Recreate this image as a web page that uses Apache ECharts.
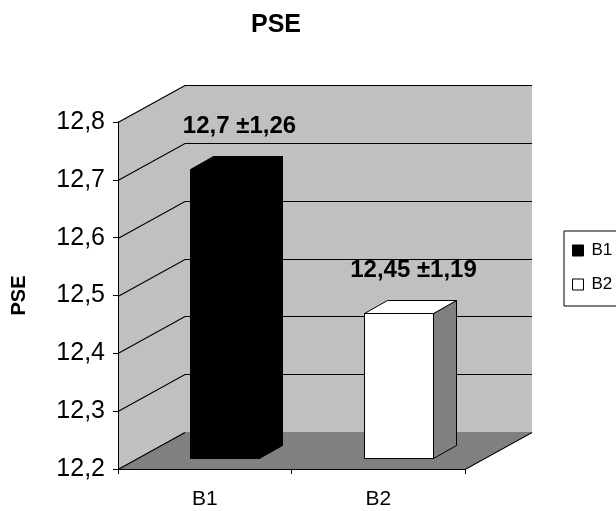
<!DOCTYPE html>
<html>
<head>
<meta charset="utf-8">
<script src="https://cdn.jsdelivr.net/npm/echarts@6/dist/echarts.min.js"></script>
<style>
  html, body { margin: 0; padding: 0; background: #fff; }
  #chart { width: 616px; height: 511px; }
</style>
</head>
<body>
<div id="chart"></div>
<script>
// Group names, mean PSE values and their standard deviations
const categories = ['B1', 'B2'];
const means = [12.7, 12.45];
const deviations = [1.26, 1.19];

// Value axis range and tick values
const yMin = 12.2;
const yMax = 12.8;
const yStep = 0.1;
const yTicks = [12.2, 12.3, 12.4, 12.5, 12.6, 12.7, 12.8];

// Perspective: offset of the back wall relative to the front plane
const DX = 67;
const DY = -37;
// Bars sit between these depth fractions
const F0 = 0.3;
const F1 = 0.65;

const FONT = '"Liberation Sans", Arial, sans-serif';

const barLooks = [
  { front: '#000000', side: '#000000', top: '#000000' },
  { front: '#ffffff', side: '#808080', top: '#ffffff' }
];

function comma(v) { return String(v).replace('.', ','); }

const r = (v) => Math.round(v) + 0.5;

// Walls, floor and gridlines of the 3D box
function renderScene(params, api) {
  const cs = params.coordSys;
  const x0 = cs.x, x1 = cs.x + cs.width;
  const yTop = api.coord([0, yMax])[1];
  const yBot = api.coord([0, yMin])[1];
  const children = [];
  children.push({
    type: 'polygon',
    shape: { points: [[x0, yTop], [x0 + DX, yTop + DY], [x0 + DX, yBot + DY], [x0, yBot]] },
    style: { fill: '#c0c0c0' }
  });
  children.push({
    type: 'rect',
    shape: { x: x0 + DX, y: yTop + DY, width: cs.width, height: yBot - yTop },
    style: { fill: '#c0c0c0' }
  });
  children.push({
    type: 'polygon',
    shape: { points: [[x0, yBot], [x1, yBot], [x1 + DX, yBot + DY], [x0 + DX, yBot + DY]] },
    style: { fill: '#808080' }
  });
  yTicks.forEach(function (v) {
    if (v <= yMin + 1e-9) return;
    const y = api.coord([0, v])[1];
    children.push({
      type: 'polyline',
      shape: { points: [[x0, r(y)], [x0 + DX, r(y + DY)], [x1 + DX, r(y + DY)]] },
      style: { stroke: '#000', lineWidth: 1.2, fill: null }
    });
  });
  children.push({
    type: 'line',
    shape: { x1: x0, y1: r(yBot), x2: x0 + DX, y2: r(yBot + DY) },
    style: { stroke: '#000', lineWidth: 1.2 }
  });
  children.push({
    type: 'line',
    shape: { x1: x1, y1: r(yBot), x2: x1 + DX, y2: r(yBot + DY) },
    style: { stroke: '#000', lineWidth: 1.2 }
  });
  return { type: 'group', children: children };
}

// One 3D column with its value label
function renderBar(params, api) {
  const i = api.value(0);
  const v = api.value(1);
  const look = barLooks[i];
  const top = api.coord([i, v]);
  const base = api.coord([i, yMin]);
  const bw = api.size([1, 0])[0] * 0.4;
  const fx = Math.round(top[0] - bw / 2 + F0 * DX) + 0.5;
  const fy0 = Math.round(base[1] + F0 * DY) + 0.5;
  const fy1 = Math.round(top[1] + F0 * DY) + 0.5;
  const ddx = Math.round((F1 - F0) * DX);
  const ddy = Math.round((F1 - F0) * DY);
  const w = Math.round(bw);
  const edge = { stroke: '#000', lineWidth: 1 };
  return {
    type: 'group',
    children: [
      {
        type: 'polygon',
        shape: { points: [[fx + w, fy1], [fx + w + ddx, fy1 + ddy], [fx + w + ddx, fy0 + ddy], [fx + w, fy0]] },
        style: Object.assign({ fill: look.side }, edge)
      },
      {
        type: 'polygon',
        shape: { points: [[fx, fy1], [fx + ddx, fy1 + ddy], [fx + w + ddx, fy1 + ddy], [fx + w, fy1]] },
        style: Object.assign({ fill: look.top }, edge)
      },
      {
        type: 'rect',
        shape: { x: fx, y: fy1, width: w, height: fy0 - fy1 },
        style: Object.assign({ fill: look.front }, edge)
      },
      {
        type: 'text',
        x: fx + w / 2 + ddx / 2 + 3,
        y: fy1 + ddy - 18,
        style: {
          text: comma(v) + ' \u00b1' + comma(deviations[i]),
          fill: '#000',
          font: 'bold 24px ' + FONT,
          align: 'center',
          verticalAlign: 'bottom'
        }
      }
    ]
  };
}

const chart = echarts.init(document.getElementById('chart'), null, { renderer: 'canvas' });

const barSeries = categories.map(function (name, i) {
  return {
    type: 'custom',
    name: name,
    z: 5,
    clip: false,
    itemStyle: { color: barLooks[i].front },
    renderItem: renderBar,
    data: [[i, means[i]]]
  };
});

chart.setOption({
  animation: false,
  backgroundColor: '#ffffff',
  title: {
    text: 'PSE',
    left: 246,
    top: 8,
    textStyle: { fontFamily: FONT, fontWeight: 'bold', fontSize: 25, color: '#000' }
  },
  legend: {
    orient: 'vertical',
    left: 564,
    top: 231,
    padding: [11, 40, 13, 8],
    itemGap: 17,
    itemWidth: 11,
    itemHeight: 11,
    borderColor: '#000',
    borderWidth: 1,
    backgroundColor: '#fff',
    textStyle: { fontFamily: FONT, fontSize: 17, color: '#000', padding: [0, 0, 0, 3] },
    data: [
      { name: 'B1', icon: 'rect', itemStyle: { color: '#000', borderColor: '#000', borderWidth: 1 } },
      { name: 'B2', icon: 'rect', itemStyle: { color: '#fff', borderColor: '#000', borderWidth: 1 } }
    ]
  },
  grid: { left: 118, top: 122, width: 347, height: 347, containLabel: false },
  xAxis: {
    type: 'category',
    data: categories,
    z: 10,
    axisLine: { show: true, lineStyle: { color: '#000', width: 1 } },
    axisTick: { show: true, length: 5, lineStyle: { color: '#000' } },
    axisLabel: { fontFamily: FONT, fontSize: 21, color: '#000', margin: 20 },
    splitLine: { show: false }
  },
  yAxis: {
    type: 'value',
    min: yMin,
    max: yMax,
    interval: yStep,
    z: 10,
    name: 'PSE',
    nameLocation: 'middle',
    nameRotate: 90,
    nameGap: 89,
    nameTextStyle: { fontFamily: FONT, fontWeight: 'bold', fontSize: 20, color: '#000' },
    axisLine: { show: true, lineStyle: { color: '#000', width: 1 } },
    axisTick: { show: true, length: 5, lineStyle: { color: '#000' } },
    axisLabel: {
      fontFamily: FONT, fontSize: 25, color: '#000', margin: 13,
      formatter: function (v) { return comma(Math.round(v * 10) / 10); }
    },
    splitLine: { show: false }
  },
  series: [
    {
      type: 'custom',
      name: 'scene',
      z: 1,
      clip: false,
      silent: true,
      renderItem: renderScene,
      data: [[0, yMin]]
    }
  ].concat(barSeries)
});
</script>
</body>
</html>
